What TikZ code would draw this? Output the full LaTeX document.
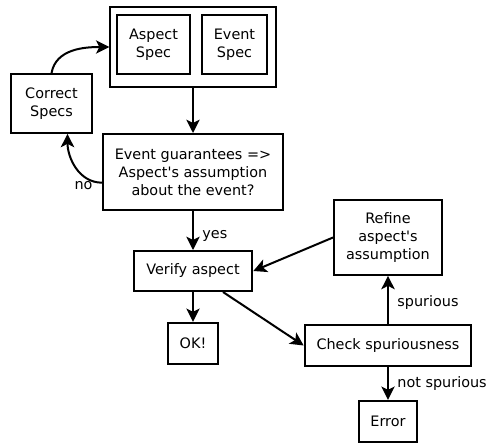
\documentclass[tikz,border=0pt]{standalone}
\usepackage{fontspec}
\setmainfont{DejaVu Sans}
\usetikzlibrary{positioning, arrows.meta}

\begin{document}
\begin{tikzpicture}[
    x=0.75pt, y=-0.75pt,
    font=\fontsize{10.8}{13.5}\selectfont,
    box/.style={
        rectangle,
        draw=black,
        line width=1.5pt,
        align=center,
        inner sep=2pt
    },
    arrow/.style={-{Stealth[length=10pt,width=10pt,inset=2.5pt]}, line width=1.5pt},
    labelstyle/.style={font=\fontsize{10.8}{12}\selectfont, xshift=3pt}
]
\useasboundingbox (0,0) rectangle (489,444);

% --- Specifications ---
\node[box, minimum width=124pt, minimum height=60pt] (specs) at (193,47) {};
\node[box, minimum width=55pt, minimum height=44pt] (aspect) at (153.5,44.5) {Aspect\\Spec};
\node[box, minimum width=49pt, minimum height=44pt] (event) at (234.5,44.5) {Event\\Spec};
\node[box, minimum width=61pt, minimum height=44pt] (correct) at (51.5,103.5) {Correct\\Specs};

% --- Flow ---
\node[box, minimum width=135pt, minimum height=57pt] (guarantee) at (193,172)
    {Event guarantees =>\\Aspect\textquotesingle s assumption\\about the event?};
\node[box, minimum width=89pt, minimum height=30pt] (verify) at (193,271) {Verify aspect};
\node[box, minimum width=37.5pt, minimum height=31pt] (ok) at (193,343.5) {OK!};
\node[box, minimum width=81pt, minimum height=56pt] (refine) at (388,237.5)
    {Refine\\aspect\textquotesingle s\\assumption};
\node[box, minimum width=125pt, minimum height=31pt] (check) at (388,345.5) {Check spuriousness};
\node[box, minimum width=44pt, minimum height=31pt] (error) at (388,421.5) {Error};

% --- Arrows ---
\draw[arrow] (specs) -- (guarantee);
\draw[arrow] (guarantee) -- node[right, labelstyle, pos=0.65] {yes} (verify);
\draw[arrow] (verify) -- (ok);
\draw[arrow] ([xshift=22.5pt]verify.south) -- (check.west);
\draw[arrow] (refine.west) -- (verify.east);
\draw[arrow] (check) -- node[right, labelstyle, pos=0.45] {spurious} (refine);
\draw[arrow] (check) -- node[right, labelstyle] {not spurious} (error);
\draw[arrow] (correct.north) to[out=80, in=180] (specs.west);
\draw[arrow] ([yshift=-8pt]guarantee.west) to[out=180, in=-90]
    node[at start, anchor=east, labelstyle, xshift=-6pt, yshift=-2pt] {no}
    ([xshift=12pt]correct.south);

\end{tikzpicture}
\end{document}
